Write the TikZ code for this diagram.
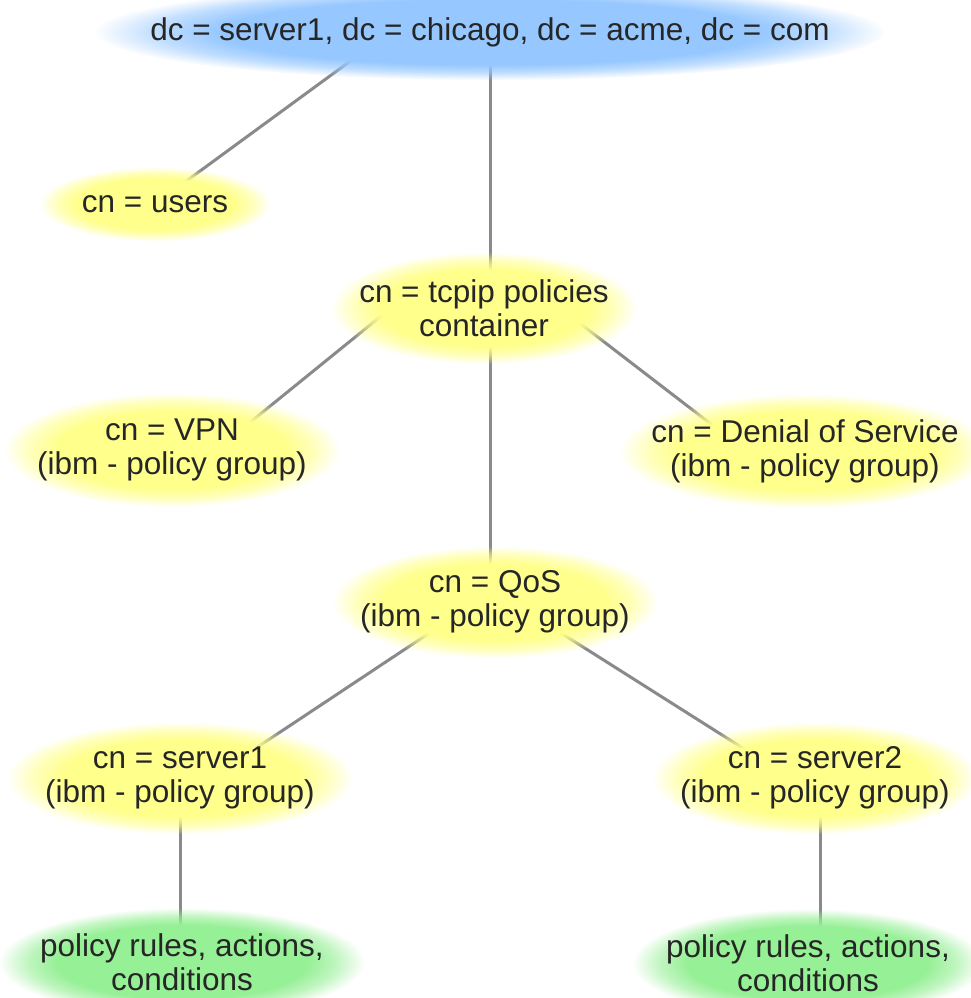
\documentclass[tikz,border=0pt]{standalone}
\usepackage{fontspec}
\setmainfont{Liberation Sans}
\usetikzlibrary{shapes.geometric,fadings,calc}
\pgfdeclarelayer{background}
\pgfsetlayers{background,main}
\pgfdeclareradialshading{glowshade}{\pgfpointorigin}{color(0bp)=(white); color(17bp)=(white); color(21bp)=(black!40); color(25bp)=(black); color(50bp)=(black)}
\pgfdeclarefading{glow}{\pgfuseshading{glowshade}}
\definecolor{gblue}{RGB}{150,200,255}
\definecolor{gyellow}{RGB}{255,255,140}
\definecolor{ggreen}{RGB}{150,240,150}
\definecolor{linegray}{RGB}{138,138,138}
\newcommand\gfont{\fontsize{31.5}{34}\selectfont}
\tikzset{
  glownode/.style={ellipse, inner sep=0pt, path fading=glow},
  bluenode/.style={glownode, fill=gblue},
  yellownode/.style={glownode, fill=gyellow},
  greennode/.style={glownode, fill=ggreen},
  txt/.style={align=center, text=black!85, font=\gfont, inner sep=0pt},
  link/.style={draw=linegray, line width=3pt}
}
\begin{document}
\begin{tikzpicture}[x=1pt,y=-1pt]
\useasboundingbox (0,0) rectangle (970,998);
\node[bluenode, minimum width=790, minimum height=96, label={[txt]center:dc = server1, dc = chicago, dc = acme, dc = com}] (top) at (490,32) {};
\node[yellownode, minimum width=230, minimum height=74, label={[txt]center:cn = users}] (users) at (155,204) {};
\node[yellownode, minimum width=305, minimum height=112, label={[txt]center:cn = tcpip policies\\container}] (tcpip) at (484,308) {};
\node[yellownode, minimum width=335, minimum height=114, label={[txt]center:cn = VPN\\(ibm - policy group)}] (vpn) at (172,450) {};
\node[yellownode, minimum width=370, minimum height=114, label={[txt]center:cn = Denial of Service\\(ibm - policy group)}] (dos) at (805,451) {};
\node[yellownode, minimum width=325, minimum height=112, label={[txt]center:cn = QoS\\(ibm - policy group)}] (qos) at (495,602) {};
\node[yellownode, minimum width=345, minimum height=112, label={[txt]center:cn = server1\\(ibm - policy group)}] (server1) at (180,778) {};
\node[yellownode, minimum width=325, minimum height=112, label={[txt]center:cn = server2\\(ibm - policy group)}] (server2) at (815,778) {};
\node[greennode, minimum width=365, minimum height=108, label={[txt]center:policy rules, actions,\\conditions}] (g1) at (182,962) {};
\node[greennode, minimum width=350, minimum height=108, label={[txt]center:policy rules, actions,\\conditions}] (g2) at (808,963) {};
\begin{pgfonlayer}{background}
\fill[white] (0,0) rectangle (970,998);
\draw[link] (users.center) -- ([xshift=-100pt]top.center);
\draw[link] (top.center) -- (top.center |- tcpip.center);
\draw[link] (top.center |- tcpip.center) -- (top.center |- qos.center);
\draw[link] ([xshift=-93pt]tcpip.center) -- ([xshift=44pt]vpn.center);
\draw[link] ([xshift=76pt]tcpip.center) -- ([xshift=-59pt]dos.center);
\draw[link] ([xshift=-19pt]qos.center) -- ([xshift=31pt]server1.center);
\draw[link] ([xshift=17pt]qos.center) -- ([xshift=-25pt]server2.center);
\draw[link] (server1.center) -- (server1.center |- g1.center);
\draw[link] ([xshift=5pt]server2.center) -- ([xshift=5pt]server2.center |- g2.center);
\end{pgfonlayer}
\end{tikzpicture}
\end{document}
